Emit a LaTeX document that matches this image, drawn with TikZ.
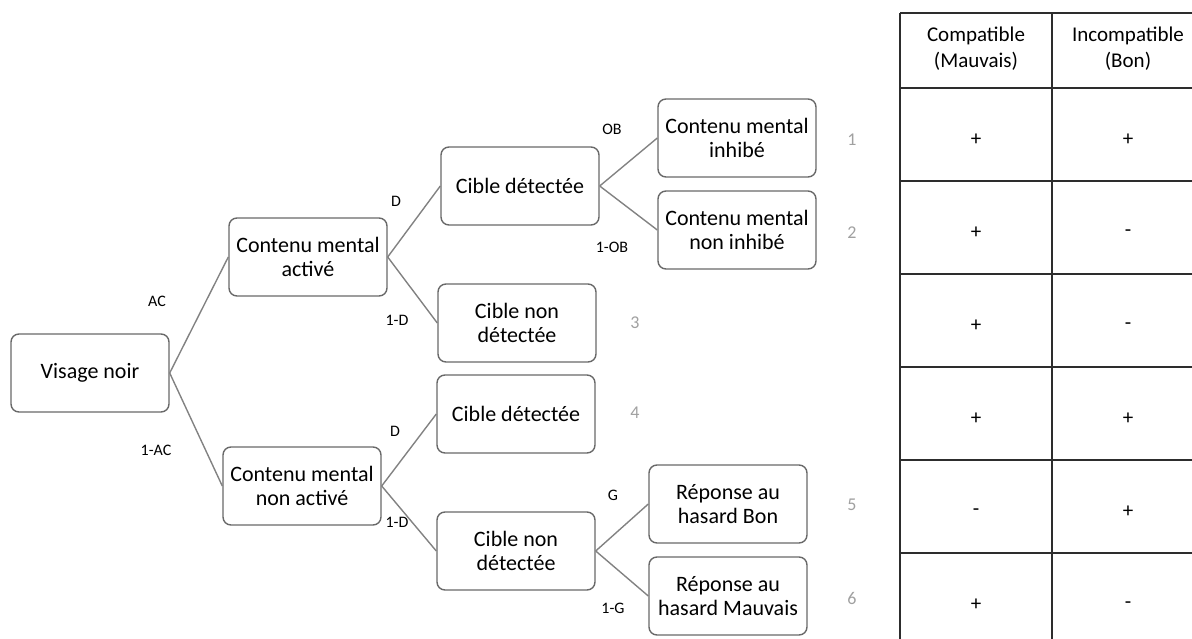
\documentclass[tikz,border=0pt]{standalone}
\usepackage{fontspec}
\setmainfont{Carlito}
\definecolor{boxline}{RGB}{105,105,105}
\definecolor{edgeline}{RGB}{130,130,130}
\definecolor{numgray}{RGB}{160,160,160}
\definecolor{tabline}{RGB}{45,45,45}
\tikzset{
  box/.style={draw=boxline, line width=1.4pt, rounded corners=8pt, minimum width=158pt, minimum height=78pt, align=center, inner sep=0pt, font=\fontsize{22}{24}\selectfont},
  conn/.style={draw=edgeline, line width=1.4pt},
  prob/.style={font=\fontsize{16}{18}\selectfont, inner sep=0pt},
  num/.style={font=\fontsize{18}{20}\selectfont, text=numgray, inner sep=0pt},
  cell/.style={font=\fontsize{21}{26}\selectfont, align=center, inner sep=0pt},
  tab/.style={draw=tabline, line width=1.4pt}
}
\begin{document}
\begin{tikzpicture}[x=1pt,y=-1pt]
\useasboundingbox (0,0) rectangle (1192,639);
\clip (0,0) rectangle (1192,639);
% tree nodes
\node[box] (vn) at (90,373) {Visage noir};
\node[box] (cma) at (308,257) {Contenu mental\\activé};
\node[box] (cmna) at (302,486) {Contenu mental\\non activé};
\node[box] (cd1) at (520,186) {Cible détectée};
\node[box] (cnd1) at (517,323) {Cible non\\détectée};
\node[box] (cmi) at (737,138) {Contenu mental\\inhibé};
\node[box] (cmni) at (737,230) {Contenu mental\\non inhibé};
\node[box] (cd2) at (516,414) {Cible détectée};
\node[box] (cnd2) at (516,551) {Cible non\\détectée};
\node[box] (rb) at (728,504) {Réponse au\\hasard Bon};
\node[box] (rm) at (728,596) {Réponse au\\hasard Mauvais};
% connectors
\draw[conn] (vn.east) -- (cma.west);
\draw[conn] (vn.east) -- (cmna.west);
\draw[conn] (cma.east) -- (cd1.west);
\draw[conn] (cma.east) -- (cnd1.west);
\draw[conn] (cd1.east) -- (cmi.west);
\draw[conn] (cd1.east) -- (cmni.west);
\draw[conn] (cmna.east) -- (cd2.west);
\draw[conn] (cmna.east) -- (cnd2.west);
\draw[conn] (cnd2.east) -- (rb.west);
\draw[conn] (cnd2.east) -- (rm.west);
% probability labels
\node[prob] (lac) at (157,301) {AC};
\node[prob] (l1ac) at (156,450) {1-AC};
\node[prob] (ld1) at (396,201) {D};
\node[prob] (l1d1) at (397,320) {1-D};
\node[prob] (ld2) at (395,431) {D};
\node[prob] (l1d2) at (397,522) {1-D};
\node[prob] (lob) at (612,129) {OB};
\node[prob] (l1ob) at (612,247) {1-OB};
\node[prob] (lg) at (613,495) {G};
\node[prob] (l1g) at (613,608) {1-G};
% outcome numbers
\node[num] (n1) at (852,140) {1};
\node[num] (n2) at (852,233) {2};
\node[num] (n3) at (635,323) {3};
\node[num] (n4) at (635,413) {4};
\node[num] (n5) at (852,505) {5};
\node[num] (n6) at (852,598) {6};
% table
\draw[tab] (900,13) -- (900,660);
\draw[tab] (1052,13) -- (1052,660);
\draw[tab] (1204,13) -- (1204,660);
\foreach \yy in {13,88,181,274,367,460,553,646}
  \draw[tab] (900,\yy) -- (1210,\yy);
\node[cell] (h1) at (976,49) {Compatible\\(Mauvais)};
\node[cell] (h2) at (1128,49) {Incompatible\\(Bon)};
\node[cell] (a1) at (976,140) {+};
\node[cell] (b1) at (1128,140) {+};
\node[cell] (a2) at (976,233) {+};
\node[cell] (b2) at (1128,233) {-};
\node[cell] (a3) at (976,326) {+};
\node[cell] (b3) at (1128,326) {-};
\node[cell] (a4) at (976,419) {+};
\node[cell] (b4) at (1128,419) {+};
\node[cell] (a5) at (976,512) {-};
\node[cell] (b5) at (1128,512) {+};
\node[cell] (a6) at (976,605) {+};
\node[cell] (b6) at (1128,605) {-};
\end{tikzpicture}
\end{document}
